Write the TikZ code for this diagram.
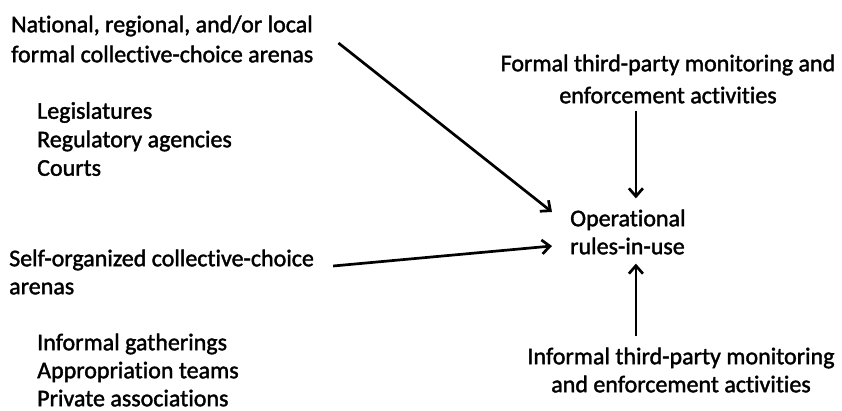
\documentclass[tikz,border=0pt]{standalone}
\usepackage{fontspec}
\setmainfont{Carlito}[Ligatures=NoCommon]
\newfontfamily\diagfont{Carlito}[Ligatures=NoCommon,FakeBold=1.6]
\usetikzlibrary{arrows.meta}

\tikzset{
  label text/.style={inner sep=0pt, font=\diagfont\fontsize{24}{#1}\selectfont},
  label text/.default=28,
  flow/.style={line width=2.7pt, -{Straight Barb[length=8pt,width=14pt,line width=2.7pt]}}
}

\begin{document}
\begin{tikzpicture}[x=1pt,y=-1pt]
\useasboundingbox (0,0) rectangle (842,411);
% left column
\node [label text=30, anchor=west, align=left] (natl) at (11,39) {National, regional, and/or local\\formal collective-choice arenas};
\node [label text=28.5, anchor=west, align=left] (formalList) at (37,139) {Legislatures\\Regulatory agencies\\Courts};
\node [label text, anchor=west, align=left] (selforg) at (9,272) {Self-organized collective-choice\\arenas};
\node [label text, anchor=west, align=left] (informalList) at (37,370) {Informal gatherings\\Appropriation teams\\Private associations};
% right column
\node [label text=32, align=center] (formal) at (668,79) {Formal third-party monitoring and\\enforcement activities};
\node [label text, anchor=west, align=left] (rules) at (570,232) {Operational\\rules-in-use};
\node [label text, align=center] (informal) at (681,370) {Informal third-party monitoring\\and enforcement activities};
% arrows
\draw [flow] ([xshift=25pt,yshift=-4pt]natl.east) -- ([xshift=-18pt,yshift=20pt]rules.west);
\draw [flow] ([xshift=19pt,yshift=6pt]selforg.east) -- ([xshift=-18pt,yshift=-14pt]rules.west);
\draw [flow] ([xshift=8pt,yshift=-7pt]formal.south -| rules.north) -- ([xshift=8pt,yshift=11pt]rules.north);
\draw [flow] ([xshift=8pt,yshift=11pt]informal.north -| rules.south) -- ([xshift=8pt,yshift=-9pt]rules.south);
\end{tikzpicture}
\end{document}
